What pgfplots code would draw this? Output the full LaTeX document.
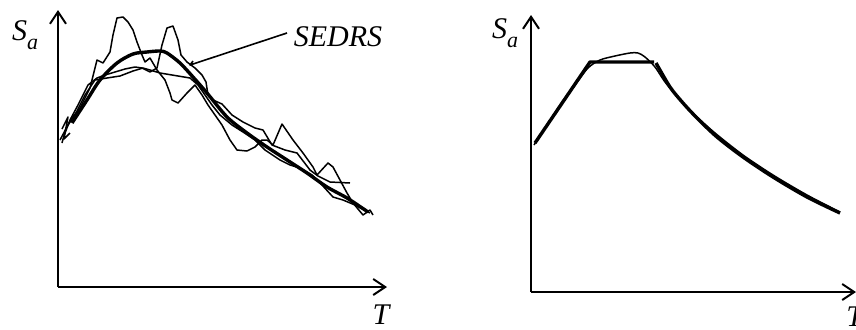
\documentclass[border=0pt]{standalone}
\usepackage{pgfplots}
\pgfplotsset{compat=1.18}
\usetikzlibrary{arrows.meta}
\usepackage{fontspec}
\setmainfont{Liberation Serif}

% one unit = one pixel of the reference, y counted from the bottom
\pgfplotsset{
  sketch/.style={
    x=0.5pt, y=0.5pt,
    axis lines=left,
    xtick=\empty, ytick=\empty,
    enlargelimits=false,
    clip=false,
    anchor=south west,
    axis line style={line width=1pt, -{Straight Barb[length=6pt,width=8pt]}},
  },
  thin/.style={black, line width=0.75pt, line join=round},
  heavy/.style={black, line width=1.7pt, line join=round},
}
\newcommand{\Sa}{\itshape S\raisebox{-0.28em}{\fontsize{11}{12}\selectfont a}}

\begin{document}
\begin{tikzpicture}
\begin{axis}[sketch, at={(29pt,21pt)}, xmin=58, xmax=387, ymin=42, ymax=319]
  % records
  \addplot[thin] coordinates {
    (62,186) (66,201) (72,211) (80,221) (90,241) (97,269) (103,266) (110,277)
    (113,294) (117,311) (123,312) (128,307) (133,299) (137,287) (142,274)
    (145,267) (150,271) (157,259) (165,249) (170,236) (172,229) (178,226)
    (187,236) (195,244) (202,234) (208,224) (215,214) (222,204) (230,189)
    (237,179) (247,178) (255,182) (262,189) (267,189) (273,184) (282,205)
    (293,189) (303,176) (313,162) (317,154) (328,166) (333,162) (340,149)
    (347,136) (353,126) (363,114) (370,119) (373,114)
  };
  \addplot[thin] coordinates {
    (65,196) (70,209) (78,224) (88,244) (97,251) (105,254) (115,257) (125,260)
    (135,262) (142,261) (150,257) (157,261) (162,284) (167,301) (173,303)
    (178,289) (181,274) (187,267) (195,261) (202,254) (206,247) (208,234)
    (213,229) (222,225) (232,214) (243,207) (255,201) (263,199) (272,184)
    (285,179) (297,176) (310,159) (318,153) (330,147) (350,146)
  };
  \addplot[thin] coordinates {
    (60,189) (68,204) (75,214) (85,234) (95,249) (107,251) (120,253) (133,258)
    (143,261) (150,259) (160,256) (190,251) (198,244) (205,234) (212,224)
    (220,214) (232,204) (243,197) (255,189) (265,179) (280,169) (290,164)
    (300,161) (312,154) (322,144) (333,132) (343,129) (355,124) (370,116)
  };
  \addplot[thin] coordinates {(62,200) (68,212) (64,190) (70,196)};
  % SEDRS
  \addplot[heavy, smooth] coordinates {
    (72,206) (87,229) (100,249) (117,266) (133,275) (147,277) (160,278)
    (167,276) (180,266) (193,252) (207,236) (227,212) (247,196) (267,182)
    (287,169) (307,156) (327,142) (347,131) (368,117)
  };
  \addplot[thin, line width=0.8pt] coordinates {(287,296) (190,264) (193,268)};
  \node[font=\fontsize{15}{18}\selectfont] at (axis cs:25,294) {\Sa};
  \node[font=\fontsize{15}{18}\selectfont\itshape] at (axis cs:338,292) {SEDRS};
  \node[font=\fontsize{15}{18}\selectfont\itshape, anchor=base, inner sep=0pt]
    at (axis cs:381,5) {T};
\end{axis}

\begin{axis}[sketch, at={(265.5pt,18.5pt)}, xmin=531, xmax=856, ymin=37, ymax=314]
  \addplot[thin, smooth] coordinates {
    (534,184) (560,224) (575,244) (588,261) (600,269) (615,273) (630,276)
    (638,276) (645,272) (655,262) (665,247) (680,229) (695,214) (715,196)
    (743,174) (773,154) (807,134) (840,117)
  };
  \addplot[heavy] coordinates {(535,186) (590,267) (654,267)};
  \addplot[heavy, smooth] coordinates {
    (656,266) (670,242) (683,226) (697,211) (717,192) (743,172) (773,152)
    (807,132) (840,116)
  };
  \node[font=\fontsize{15}{18}\selectfont] at (axis cs:505,296) {\Sa};
  % cut by the right edge, as in the reference
  \node[font=\fontsize{15}{18}\selectfont\itshape, anchor=base west, inner sep=0pt]
    at (axis cs:846,3) {T};
\end{axis}
\pgfresetboundingbox
\path[use as bounding box] (0,0) rectangle (428pt,164.5pt);
\end{tikzpicture}
\end{document}
